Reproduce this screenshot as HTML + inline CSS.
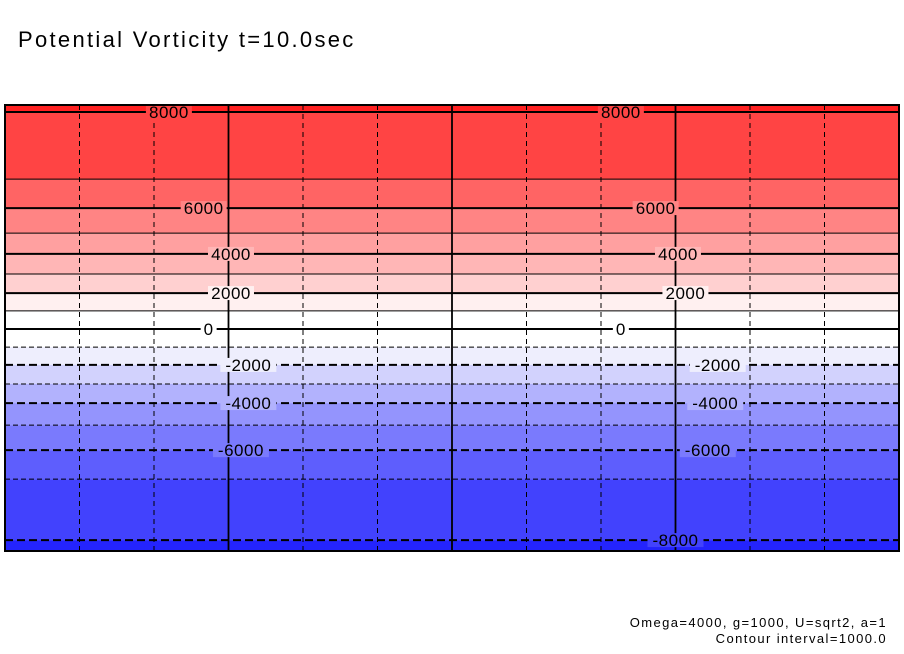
<!DOCTYPE html>
<html><head><meta charset="utf-8"><style>
body{margin:0;background:#fff;width:904px;height:654px;overflow:hidden;font-family:"Liberation Sans",sans-serif}
svg{position:absolute;left:0;top:0}
</style></head><body>
<svg id="chart" width="904" height="654">
<text x="18" y="47" font-size="22" letter-spacing="2.3" fill="#000">Potential Vorticity t=10.0sec</text>
<g id="bands"></g><g id="grid"></g><g id="contours"></g><g id="labels"></g>
<rect x="5" y="105" width="894" height="446" fill="none" stroke="#000" stroke-width="2"/>
<text x="887" y="627" font-size="13" letter-spacing="1.4" text-anchor="end">Omega=4000, g=1000, U=sqrt2, a=1</text>
<text x="887" y="643" font-size="13" letter-spacing="1.4" text-anchor="end">Contour interval=1000.0</text>
</svg>
<script>
const levels=[8000,7000,6000,5000,4000,3000,2000,1000,0,-1000,-2000,-3000,-4000,-5000,-6000,-7000,-8000];
const levelLats=[87.2,60.1,48.4,38.3,29.9,21.8,14.1,6.9,-0.4,-7.7,-14.9,-22.6,-30.3,-39.2,-49.3,-61.0,-85.6];
const bandColors=["#ff2222","#ff4444","#ff6464","#ff8484","#ffa0a0","#ffb6b6","#ffd0d0","#fff0f0","#ffffff","#ffffff","#eeeefd","#d2d2fd","#b2b2fd","#9494fd","#7a7afd","#5e5efd","#4242fd","#2424fd"];
const labelLevels=[8000,6000,4000,2000,0,-2000,-4000,-6000,-8000];
const labelLonsA=[-114,-100,-89,-89,-98,-82,-82,-85,null];
const labelLonsB=[68,82,91,94,68,107,106,103,90];
const gridLons=[-150,-120,-90,-60,-30,0,30,60,90,120,150];
const majorLons=[-90,0,90];
const NS="http://www.w3.org/2000/svg";
const X0=5,X1=899,Y0=105,Y1=551;
const xS=l=>X0+(l+180)/360*(X1-X0);
const yS=la=>Y0+(90-la)/180*(Y1-Y0);
function mk(t,a,p){const e=document.createElementNS(NS,t);for(const k in a)e.setAttribute(k,a[k]);p.appendChild(e);return e;}
const bands=document.getElementById('bands');
for(let i=0;i<bandColors.length;i++){
 const top=i===0?Y0:yS(levelLats[i-1]);const bot=i===levelLats.length?Y1:yS(levelLats[i]);
 const r=mk('rect',{x:X0,y:top,width:X1-X0,height:bot-top,fill:bandColors[i]},bands);
 
 
}
const grid=document.getElementById('grid');
gridLons.forEach(l=>{
 const major=majorLons.includes(l);
 const g=mk('line',{x1:xS(l),x2:xS(l),y1:Y0,y2:Y1,stroke:'#000','stroke-width':major?1.8:1,'stroke-dasharray':major?'':'5,4'},grid);
 
 
});
const cg=document.getElementById('contours');
levels.forEach((v,i)=>{
 const y=yS(levelLats[i]);const major=v%2000===0;
 const c=mk('line',{x1:X0,x2:X1,y1:y,y2:y,stroke:'#000','stroke-width':major?2:1,'stroke-dasharray':v<0?(major?'8,4':'5,3'):''},cg);
 
 
});
const lg=document.getElementById('labels');
labelLevels.forEach((v,i)=>{
 const idx=levels.indexOf(v);const la=levelLats[idx];
 [labelLonsA[i],labelLonsB[i]].forEach(lon=>{
  if(lon===null)return;
  const x=xS(lon),y=yS(la);const txt=v<0?'-'+(-v):String(v);
  const w=txt.length*10+6;
  const bg=mk('rect',{x:x-w/2,y:y-7,width:w,height:14,fill:bandColors[v<0?idx:idx+1]},lg);
  
  
  const t=mk('text',{x:x,y:y+6,'font-size':17,'text-anchor':'middle',fill:'#000','letter-spacing':'0.5'},lg);
  t.textContent=txt;
  
  
 });
});
</script>
</body></html>
